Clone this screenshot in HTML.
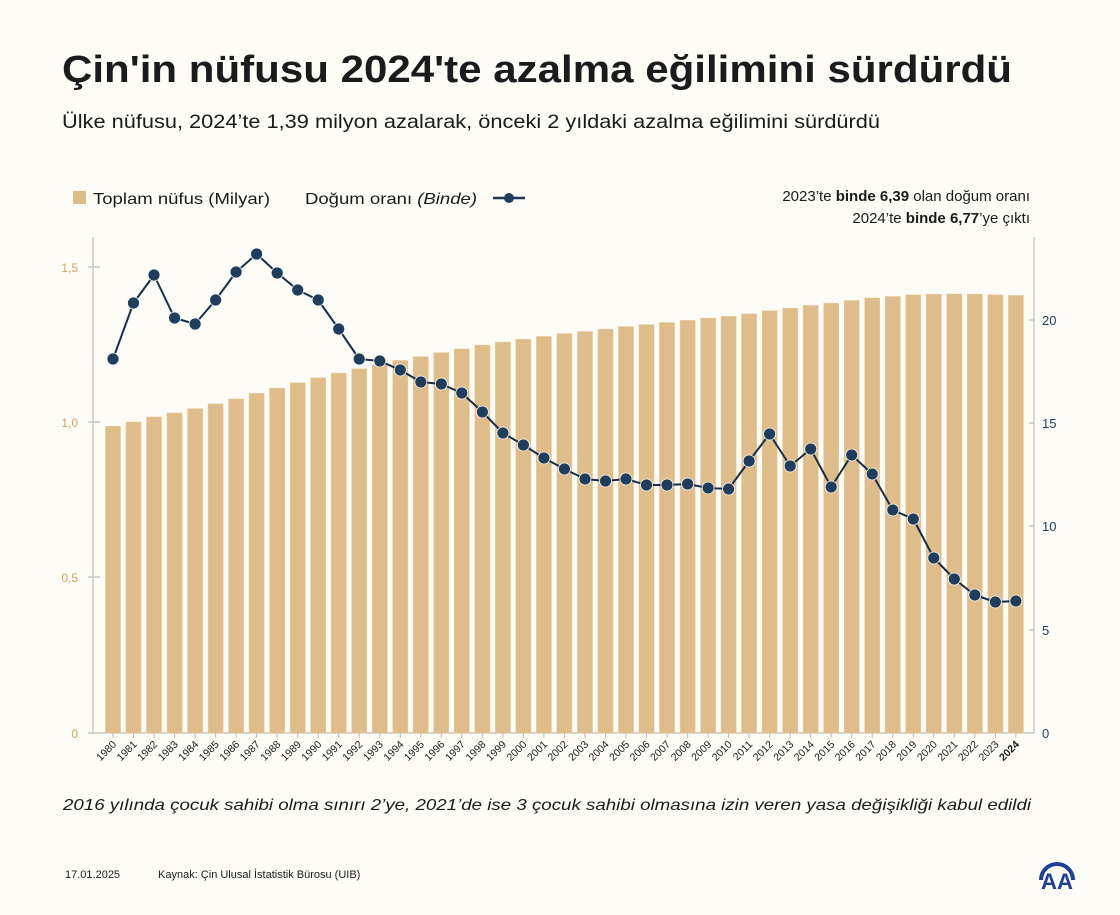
<!DOCTYPE html>
<html><head><meta charset="utf-8"><style>
html,body{margin:0;padding:0;background:#fdfcf6;}
svg{display:block;font-family:"Liberation Sans",sans-serif;}
</style></head><body>
<svg width="1120" height="915" viewBox="0 0 1120 915" xmlns="http://www.w3.org/2000/svg">
<rect width="1120" height="915" fill="#fdfcf6"/>
<text x="62" y="82" font-size="38" font-weight="bold" fill="#1b1b1d" textLength="950" lengthAdjust="spacingAndGlyphs">Çin'in nüfusu 2024'te azalma eğilimini sürdürdü</text>
<text x="62" y="128" font-size="19.5" fill="#1b1b1d" textLength="818" lengthAdjust="spacingAndGlyphs">Ülke nüfusu, 2024’te 1,39 milyon azalarak, önceki 2 yıldaki azalma eğilimini sürdürdü</text>
<!-- legend -->
<rect x="73" y="191" width="13" height="13" fill="#dfbd8a"/>
<text x="93" y="204" font-size="16" fill="#1b1b1d" textLength="177" lengthAdjust="spacingAndGlyphs">Toplam nüfus (Milyar)</text>
<text x="305" y="204" font-size="16" fill="#1b1b1d" textLength="172" lengthAdjust="spacingAndGlyphs">Doğum oranı <tspan font-style="italic">(Binde)</tspan></text>
<line x1="493" y1="198" x2="525" y2="198" stroke="#1d3550" stroke-width="2.5"/>
<circle cx="509" cy="198" r="5" fill="#1f3d5c"/>
<text x="1030" y="201" font-size="15" fill="#1b1b1d" text-anchor="end">2023’te <tspan font-weight="bold">binde 6,39</tspan> olan doğum oranı</text>
<text x="1030" y="223" font-size="15" fill="#1b1b1d" text-anchor="end">2024’te <tspan font-weight="bold">binde 6,77</tspan>’ye çıktı</text>
<!-- axes -->
<line x1="93" y1="237" x2="93" y2="733" stroke="#bdbdbd" stroke-width="1.2"/>
<line x1="1034" y1="237" x2="1034" y2="733" stroke="#bdbdbd" stroke-width="1.2"/>
<line x1="88" y1="733" x2="1034" y2="733" stroke="#bdbdbd" stroke-width="1.2"/>
<g stroke="#bdbdbd" stroke-width="1.2">
<line x1="88" y1="267" x2="100" y2="267"/><line x1="88" y1="422" x2="100" y2="422"/><line x1="88" y1="577" x2="100" y2="577"/>
<line x1="1029" y1="320" x2="1034" y2="320"/><line x1="1029" y1="423" x2="1034" y2="423"/><line x1="1029" y1="526" x2="1034" y2="526"/><line x1="1029" y1="630" x2="1034" y2="630"/>
</g>
<g font-size="12" fill="#d4a45a" text-anchor="end">
<text x="78" y="272">1,5</text><text x="78" y="427">1,0</text><text x="78" y="582">0,5</text><text x="78" y="738">0</text>
</g>
<g font-size="13" fill="#1f3d5c">
<text x="1042" y="325">20</text><text x="1042" y="428">15</text><text x="1042" y="531">10</text><text x="1042" y="635">5</text><text x="1042" y="738">0</text>
</g>
<!-- bars -->
<g fill="#dfbd8a" stroke="#e6c99a" stroke-width="0.6">
<rect x="105.5" y="426.3" width="15" height="306.7"/>
<rect x="126.0" y="422.0" width="15" height="311.0"/>
<rect x="146.5" y="417.0" width="15" height="316.0"/>
<rect x="167.1" y="413.0" width="15" height="320.0"/>
<rect x="187.6" y="408.6" width="15" height="324.4"/>
<rect x="208.1" y="404.0" width="15" height="329.0"/>
<rect x="228.6" y="399.0" width="15" height="334.0"/>
<rect x="249.1" y="393.4" width="15" height="339.6"/>
<rect x="269.7" y="388.1" width="15" height="344.9"/>
<rect x="290.2" y="382.8" width="15" height="350.2"/>
<rect x="310.7" y="377.9" width="15" height="355.1"/>
<rect x="331.2" y="373.2" width="15" height="359.8"/>
<rect x="351.7" y="368.9" width="15" height="364.1"/>
<rect x="372.3" y="364.8" width="15" height="368.2"/>
<rect x="392.8" y="360.5" width="15" height="372.5"/>
<rect x="413.3" y="356.7" width="15" height="376.3"/>
<rect x="433.8" y="352.7" width="15" height="380.3"/>
<rect x="454.3" y="349.0" width="15" height="384.0"/>
<rect x="474.9" y="345.2" width="15" height="387.8"/>
<rect x="495.4" y="342.1" width="15" height="390.9"/>
<rect x="515.9" y="339.3" width="15" height="393.7"/>
<rect x="536.4" y="336.5" width="15" height="396.5"/>
<rect x="556.9" y="333.7" width="15" height="399.3"/>
<rect x="577.5" y="331.6" width="15" height="401.4"/>
<rect x="598.0" y="329.1" width="15" height="403.9"/>
<rect x="618.5" y="326.6" width="15" height="406.4"/>
<rect x="639.0" y="324.7" width="15" height="408.3"/>
<rect x="659.5" y="322.6" width="15" height="410.4"/>
<rect x="680.1" y="320.4" width="15" height="412.6"/>
<rect x="700.6" y="318.2" width="15" height="414.8"/>
<rect x="721.1" y="316.4" width="15" height="416.6"/>
<rect x="741.6" y="313.9" width="15" height="419.1"/>
<rect x="762.1" y="310.8" width="15" height="422.2"/>
<rect x="782.7" y="308.3" width="15" height="424.7"/>
<rect x="803.2" y="305.5" width="15" height="427.5"/>
<rect x="823.7" y="303.3" width="15" height="429.7"/>
<rect x="844.2" y="300.5" width="15" height="432.5"/>
<rect x="864.7" y="298.0" width="15" height="435.0"/>
<rect x="885.3" y="296.5" width="15" height="436.5"/>
<rect x="905.8" y="294.9" width="15" height="438.1"/>
<rect x="926.3" y="294.3" width="15" height="438.7"/>
<rect x="946.8" y="294.0" width="15" height="439.0"/>
<rect x="967.3" y="294.3" width="15" height="438.7"/>
<rect x="987.9" y="294.9" width="15" height="438.1"/>
<rect x="1008.4" y="295.5" width="15" height="437.5"/>
</g>
<!-- line -->
<polyline fill="none" stroke="#172f4a" stroke-width="2" stroke-linejoin="round" points="113,359 133.5,303 154,275 174.6,318 195.1,324 215.6,300 236.1,272 256.6,254 277.2,273 297.7,290 318.2,300 338.7,329 359.2,359 379.8,361 400.3,370 420.8,382 441.3,384 461.8,393 482.4,412 502.9,433 523.4,445 543.9,458 564.4,469 585,479 605.5,481 626,479 646.5,485 667,485 687.6,484 708.1,488 728.6,489 749.1,461 769.6,434 790.2,466 810.7,449 831.2,487 851.7,455 872.2,474 892.8,510 913.3,519 933.8,558 954.3,579 974.8,595 995.4,602 1015.9,601"/>
<g fill="#1f3d5c" stroke="#fdfcf6" stroke-width="0.8">
<circle cx="113" cy="359" r="6"/><circle cx="133.5" cy="303" r="6"/><circle cx="154" cy="275" r="6"/><circle cx="174.6" cy="318" r="6"/><circle cx="195.1" cy="324" r="6"/><circle cx="215.6" cy="300" r="6"/><circle cx="236.1" cy="272" r="6"/><circle cx="256.6" cy="254" r="6"/><circle cx="277.2" cy="273" r="6"/><circle cx="297.7" cy="290" r="6"/><circle cx="318.2" cy="300" r="6"/><circle cx="338.7" cy="329" r="6"/><circle cx="359.2" cy="359" r="6"/><circle cx="379.8" cy="361" r="6"/><circle cx="400.3" cy="370" r="6"/><circle cx="420.8" cy="382" r="6"/><circle cx="441.3" cy="384" r="6"/><circle cx="461.8" cy="393" r="6"/><circle cx="482.4" cy="412" r="6"/><circle cx="502.9" cy="433" r="6"/><circle cx="523.4" cy="445" r="6"/><circle cx="543.9" cy="458" r="6"/><circle cx="564.4" cy="469" r="6"/><circle cx="585" cy="479" r="6"/><circle cx="605.5" cy="481" r="6"/><circle cx="626" cy="479" r="6"/><circle cx="646.5" cy="485" r="6"/><circle cx="667" cy="485" r="6"/><circle cx="687.6" cy="484" r="6"/><circle cx="708.1" cy="488" r="6"/><circle cx="728.6" cy="489" r="6"/><circle cx="749.1" cy="461" r="6"/><circle cx="769.6" cy="434" r="6"/><circle cx="790.2" cy="466" r="6"/><circle cx="810.7" cy="449" r="6"/><circle cx="831.2" cy="487" r="6"/><circle cx="851.7" cy="455" r="6"/><circle cx="872.2" cy="474" r="6"/><circle cx="892.8" cy="510" r="6"/><circle cx="913.3" cy="519" r="6"/><circle cx="933.8" cy="558" r="6"/><circle cx="954.3" cy="579" r="6"/><circle cx="974.8" cy="595" r="6"/><circle cx="995.4" cy="602" r="6"/><circle cx="1015.9" cy="601" r="6"/>
</g>
<!-- x ticks & labels -->
<g stroke="#bdbdbd" stroke-width="1">
<path d="M113,733v5M133.5,733v5M154,733v5M174.6,733v5M195.1,733v5M215.6,733v5M236.1,733v5M256.6,733v5M277.2,733v5M297.7,733v5M318.2,733v5M338.7,733v5M359.2,733v5M379.8,733v5M400.3,733v5M420.8,733v5M441.3,733v5M461.8,733v5M482.4,733v5M502.9,733v5M523.4,733v5M543.9,733v5M564.4,733v5M585,733v5M605.5,733v5M626,733v5M646.5,733v5M667,733v5M687.6,733v5M708.1,733v5M728.6,733v5M749.1,733v5M769.6,733v5M790.2,733v5M810.7,733v5M831.2,733v5M851.7,733v5M872.2,733v5M892.8,733v5M913.3,733v5M933.8,733v5M954.3,733v5M974.8,733v5M995.4,733v5M1015.9,733v5"/>
</g>
<g font-size="10.5" fill="#1b1b1d" text-anchor="end">
<text transform="translate(117,745) rotate(-45)">1980</text>
<text transform="translate(137.5,745) rotate(-45)">1981</text>
<text transform="translate(158,745) rotate(-45)">1982</text>
<text transform="translate(178.6,745) rotate(-45)">1983</text>
<text transform="translate(199.1,745) rotate(-45)">1984</text>
<text transform="translate(219.6,745) rotate(-45)">1985</text>
<text transform="translate(240.1,745) rotate(-45)">1986</text>
<text transform="translate(260.6,745) rotate(-45)">1987</text>
<text transform="translate(281.2,745) rotate(-45)">1988</text>
<text transform="translate(301.7,745) rotate(-45)">1989</text>
<text transform="translate(322.2,745) rotate(-45)">1990</text>
<text transform="translate(342.7,745) rotate(-45)">1991</text>
<text transform="translate(363.2,745) rotate(-45)">1992</text>
<text transform="translate(383.8,745) rotate(-45)">1993</text>
<text transform="translate(404.3,745) rotate(-45)">1994</text>
<text transform="translate(424.8,745) rotate(-45)">1995</text>
<text transform="translate(445.3,745) rotate(-45)">1996</text>
<text transform="translate(465.8,745) rotate(-45)">1997</text>
<text transform="translate(486.4,745) rotate(-45)">1998</text>
<text transform="translate(506.9,745) rotate(-45)">1999</text>
<text transform="translate(527.4,745) rotate(-45)">2000</text>
<text transform="translate(547.9,745) rotate(-45)">2001</text>
<text transform="translate(568.4,745) rotate(-45)">2002</text>
<text transform="translate(589,745) rotate(-45)">2003</text>
<text transform="translate(609.5,745) rotate(-45)">2004</text>
<text transform="translate(630,745) rotate(-45)">2005</text>
<text transform="translate(650.5,745) rotate(-45)">2006</text>
<text transform="translate(671,745) rotate(-45)">2007</text>
<text transform="translate(691.6,745) rotate(-45)">2008</text>
<text transform="translate(712.1,745) rotate(-45)">2009</text>
<text transform="translate(732.6,745) rotate(-45)">2010</text>
<text transform="translate(753.1,745) rotate(-45)">2011</text>
<text transform="translate(773.6,745) rotate(-45)">2012</text>
<text transform="translate(794.2,745) rotate(-45)">2013</text>
<text transform="translate(814.7,745) rotate(-45)">2014</text>
<text transform="translate(835.2,745) rotate(-45)">2015</text>
<text transform="translate(855.7,745) rotate(-45)">2016</text>
<text transform="translate(876.2,745) rotate(-45)">2017</text>
<text transform="translate(896.8,745) rotate(-45)">2018</text>
<text transform="translate(917.3,745) rotate(-45)">2019</text>
<text transform="translate(937.8,745) rotate(-45)">2020</text>
<text transform="translate(958.3,745) rotate(-45)">2021</text>
<text transform="translate(978.8,745) rotate(-45)">2022</text>
<text transform="translate(999.4,745) rotate(-45)">2023</text>
<text transform="translate(1019.9,745) rotate(-45)" font-weight="bold">2024</text>
</g>
<text x="547" y="810" font-size="16" font-style="italic" fill="#1b1b1d" text-anchor="middle" textLength="968" lengthAdjust="spacingAndGlyphs">2016 yılında çocuk sahibi olma sınırı 2’ye, 2021’de ise 3 çocuk sahibi olmasına izin veren yasa değişikliği kabul edildi</text>
<text x="65" y="878" font-size="11" fill="#1b1b1d">17.01.2025</text>
<text x="158" y="878" font-size="11" fill="#1b1b1d">Kaynak: Çin Ulusal İstatistik Bürosu (UIB)</text>
<!-- AA logo -->
<g fill="none" stroke="#1a3e9a" stroke-width="4">
<path d="M1041,880 A16,16 0 0 1 1073,880"/>
</g>
<g fill="#1a3e9a" font-size="22" font-weight="bold" font-family="Liberation Sans,sans-serif">
<text x="1041" y="889" textLength="32" lengthAdjust="spacingAndGlyphs">AA</text>
</g>
</svg>
</body></html>
